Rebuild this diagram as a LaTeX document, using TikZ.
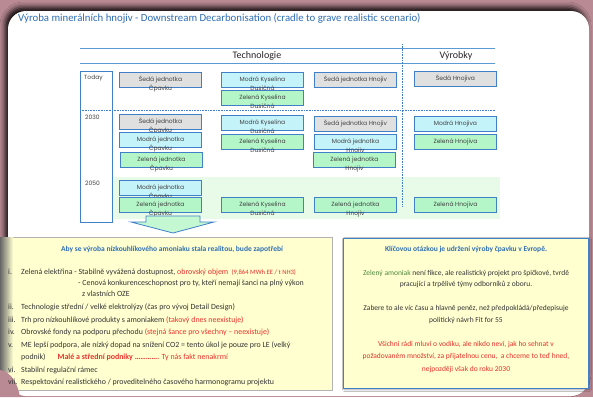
\documentclass[tikz,border=0pt]{standalone}
\usepackage{fontspec}
\setmainfont{Carlito}
\newfontfamily\poppins{Poppins}
\usetikzlibrary{shadows.blur}
\definecolor{slidebg}{RGB}{186,138,148}
\definecolor{titleblue}{RGB}{46,110,181}
\definecolor{lineblue}{RGB}{91,155,213}
\definecolor{boxblue}{RGB}{64,128,200}
\definecolor{greyfill}{RGB}{224,224,224}
\definecolor{bluefill}{RGB}{197,243,250}
\definecolor{greenfill}{RGB}{180,246,200}
\definecolor{bandgreen}{RGB}{232,251,232}
\definecolor{noteyellow}{RGB}{255,255,208}
\definecolor{notered}{RGB}{232,48,42}
\definecolor{notegreen}{RGB}{80,135,60}
\definecolor{labelgrey}{RGB}{64,64,64}
% two lines, baseline on the first one (second one runs out of the box)
\newcommand\twoline[2]{\vtop{\halign{\hfil##\hfil\cr #1\cr #2\cr}}}
\tikzset{
  unit/.style={draw=boxblue, line width=0.9pt, anchor=north west, minimum width=82pt,
    minimum height=15pt, inner sep=0pt, text height=5pt, text depth=1.5pt,
    text=labelgrey, font=\poppins\fontsize{6}{9}\selectfont},
  seda/.style={unit, fill=greyfill},
  modra/.style={unit, fill=bluefill},
  zelena/.style={unit, fill=greenfill},
  yearlbl/.style={anchor=west, inner sep=0pt, text=labelgrey, font=\poppins\fontsize{6}{7}\selectfont},
  colhead/.style={inner sep=0pt, font=\fontsize{10}{12}\selectfont, text=black!85},
  note/.style={anchor=base west, inner sep=0pt, font=\fontsize{7.9}{9}\selectfont, text=black!80},
  notec/.style={anchor=base, inner sep=0pt, font=\fontsize{7.5}{9}\selectfont, text=black!80},
  gridline/.style={lineblue, line width=0.8pt},
  dotline/.style={boxblue, line width=0.6pt, densely dotted},
}
\begin{document}
\begin{tikzpicture}[x=1pt,y=-1pt]
\useasboundingbox (0,0) rectangle (593,397);
% slide
\fill[slidebg] (0,0) rectangle (593,397);
\fill[white, rounded corners=18pt,
  blur shadow={shadow xshift=-3pt, shadow yshift=4pt, shadow blur radius=5pt, shadow opacity=90}]
  (8,11) rectangle (589,396);
\node[anchor=base west, inner sep=0pt, text=titleblue, font=\fontsize{10.8}{12}\selectfont] (title) at (18,21)
  {Výroba minerálních hnojiv - Downstream Decarbonisation (cradle to grave realistic scenario)};

% table frame
\fill[bandgreen] (112,177) rectangle (500,219);
\draw[gridline] (80,48) -- (495,48);
\draw[gridline] (80,63) -- (495,63);
\node[colhead] (tech) at (257,56) {Technologie};
\node[colhead] (vyr) at (456,56) {Výrobky};
\draw[dotline] (402,44) -- (402,207);
\draw[dotline] (80,110) -- (495,110);
\draw[boxblue, line width=0.8pt] (80,71) rectangle (112,222);
\node[yearlbl] (today) at (84,78) {Today};
\node[yearlbl] (y2030) at (85,117) {2030};
\node[yearlbl] (y2050) at (85,183) {2050};

% Today
\node[seda] (cp0) at (119,72) {\twoline{Šedá jednotka}{Čpavku}};
\node[modra] (kd0a) at (221,72) {\twoline{Modrá Kyselina}{Dusičná}};
\node[zelena] (kd0b) at (221,90) {\twoline{Zelená Kyselina}{Dusičná}};
\node[seda] (hj0) at (314,72) {Šedá jednotka Hnojiv};
\node[seda] (hv0) at (414,71) {Šedá Hnojiva};

% 2030
\node[seda] (cp1a) at (119,114) {\twoline{Šedá jednotka}{Čpavku}};
\node[modra] (cp1b) at (119,132) {\twoline{Modrá jednotka}{Čpavku}};
\node[zelena] (cp1c) at (120,152) {\twoline{Zelená jednotka}{Čpavku}};
\node[modra] (kd1a) at (221,115) {\twoline{Modrá Kyselina}{Dusičná}};
\node[zelena] (kd1b) at (221,134) {\twoline{Zelená Kyselina}{Dusičná}};
\node[seda] (hj1a) at (314,116) {Šedá jednotka Hnojiv};
\node[modra] (hj1b) at (314,134) {\twoline{Modrá jednotka}{Hnojiv}};
\node[zelena] (hj1c) at (313,152) {\twoline{Zelená jednotka}{Hnojiv}};
\node[modra] (hv1a) at (414,116) {Modrá Hnojiva};
\node[zelena] (hv1b) at (414,134) {Zelená Hnojiva};

% 2050
\node[modra] (cp2a) at (119,180) {\twoline{Modrá jednotka}{Čpavku}};
\node[zelena] (cp2b) at (119,197) {\twoline{Zelená jednotka}{Čpavku}};
\node[zelena] (kd2) at (221,197) {\twoline{Zelená Kyselina}{Dusičná}};
\node[zelena] (hj2) at (314,197) {\twoline{Zelená jednotka}{Hnojiv}};
\node[zelena] (hv2) at (414,197) {Zelená Hnojiva};

% arrow down
\filldraw[fill=greenfill!80, draw=boxblue, line width=0.8pt]
  (146,216) -- (200,216) -- (200,222) -- (214,222) -- (173,233) -- (131,222) -- (146,222) -- cycle;

% left note
\filldraw[fill=noteyellow, draw=black!30, line width=0.5pt] (5,237) rectangle (332,390);
\shade[left color=black!60, right color=noteyellow] (0,237) rectangle (13,372);
\fill[slidebg] (0,370) .. controls (12,372) and (18,385) .. (20,397) -- (0,397) -- cycle;
\node[notec, text=titleblue, font=\bfseries\fontsize{7.5}{9}\selectfont] (needhead) at (172,251)
  {Aby se výroba nízkouhlíkového amoniaku stala realitou, bude zapotřebí};
\node[note] (n1) at (8,274) {i.};
\node[note] (t1) at (21,274) {Zelená elektřina - Stabilně vyvážená dostupnost, \textcolor{notered}{obrovský objem}
  \textcolor{notered}{\fontsize{6.6}{7}\selectfont\ (9,864 MWh EE / t NH3)}};
\node[note] (t1b) at (78,285) {- Cenová konkurenceschopnost pro ty, kteří nemají šanci na plný výkon};
\node[note] (t1c) at (82,296) {z vlastních OZE};
\node[note] (n2) at (8,309) {ii.};
\node[note] (t2) at (21,309) {Technologie střední / velké elektrolýzy (čas pro vývoj Detail Design)};
\node[note] (n3) at (8,322) {iii.};
\node[note] (t3) at (21,322) {Trh pro nízkouhlíkové produkty s amoniakem \textcolor{notered}{(takový dnes neexistuje)}};
\node[note] (n4) at (8,334) {iv.};
\node[note] (t4) at (21,334) {Obrovské fondy na podporu přechodu \textcolor{notered}{(stejná šance pro všechny – neexistuje)}};
\node[note] (n5) at (8,347) {v.};
\node[note] (t5) at (21,347) {ME lepší podpora, ale nízký dopad na snížení CO2 = tento úkol je pouze pro LE (velký};
\node[note] (t5b) at (21,359) {podnik)\hspace{12pt}\textcolor{notered}{\textbf{Malé a střední podniky ………….} Ty nás fakt nenakrmí}};
\node[note] (n6) at (8,372) {vi.};
\node[note] (t6) at (21,372) {Stabilní regulační rámec};
\node[note] (n7) at (8,384) {vii.};
\node[note] (t7) at (21,384) {Respektování realistického / proveditelného časového harmonogramu projektu};

% right note
\filldraw[fill=noteyellow, draw=boxblue, line width=1pt,
  blur shadow={shadow xshift=1.5pt, shadow yshift=-1.5pt, shadow blur radius=2pt}]
  (343,238) rectangle (588,388);
\node[notec, text=titleblue, font=\bfseries\fontsize{7.5}{9}\selectfont] (keyq) at (466,251)
  {Klíčovou otázkou je udržení výroby čpavku v Evropě.};
\node[notec] (r1) at (466,275) {\textcolor{notegreen}{Zelený amoniak} není fikce, ale realistický projekt pro špičkové, tvrdě};
\node[notec] (r2) at (466,286) {pracující a trpělivé týmy odborníků z oboru.};
\node[notec] (r3) at (466,310) {Zabere to ale víc času a hlavně peněz, než předpokládá/předepisuje};
\node[notec] (r4) at (466,322) {politický návrh Fit for 55};
\node[notec, text=notered] (r5) at (466,346) {Všichni rádi mluví o vodíku, ale nikdo neví, jak ho sehnat v};
\node[notec, text=notered] (r6) at (466,358) {požadovaném množství, za přijatelnou cenu,\ \ a chceme to teď hned,};
\node[notec, text=notered] (r7) at (466,371) {nejpozději však do roku 2030};
\end{tikzpicture}
\end{document}
